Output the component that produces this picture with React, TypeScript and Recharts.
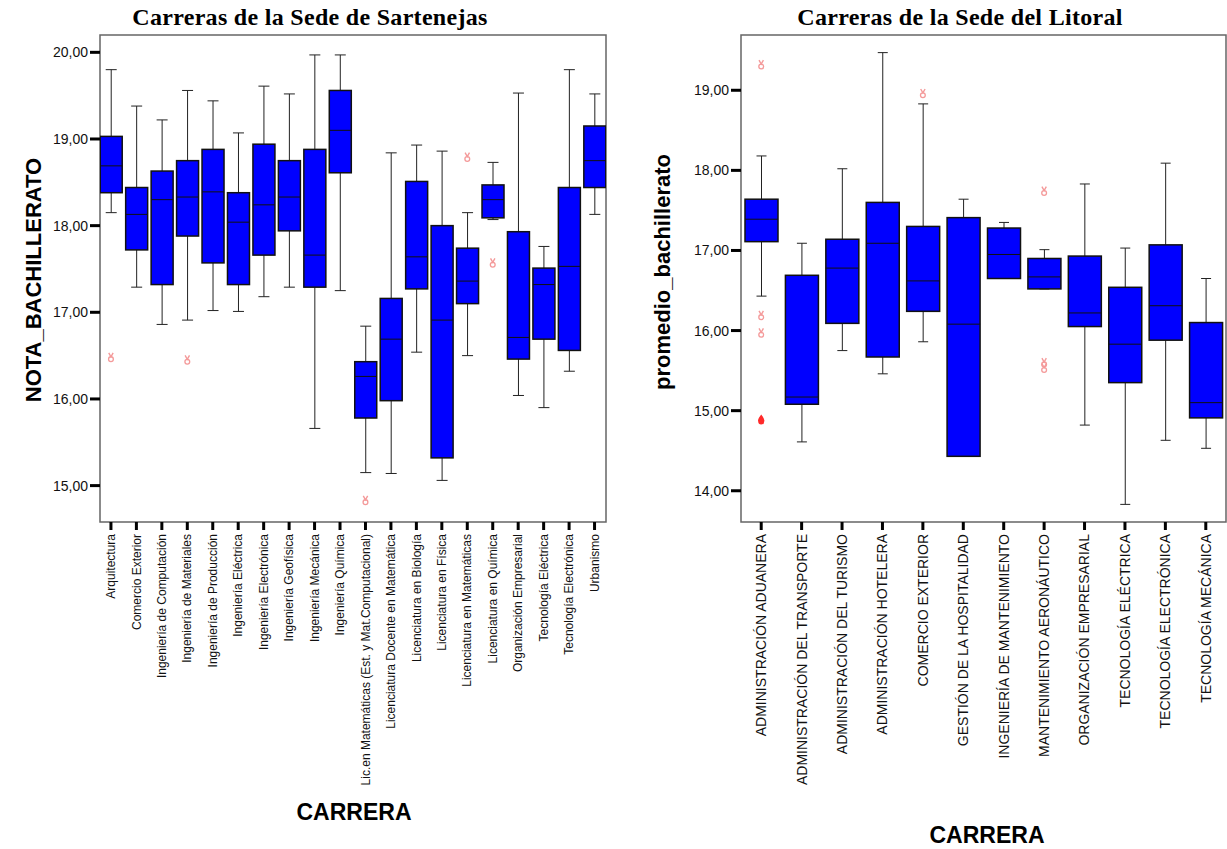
import { ComposedChart, XAxis, YAxis, Bar, Scatter, ReferenceArea } from 'recharts';

// Sede de Sartenejas
const sartCareers = [
  'Arquitectura',
  'Comercio Exterior',
  'Ingeniería de Computación',
  'Ingeniería de Materiales',
  'Ingeniería de Producción',
  'Ingeniería Eléctrica',
  'Ingeniería Electrónica',
  'Ingeniería Geofísica',
  'Ingeniería Mecánica',
  'Ingeniería Química',
  'Lic.en Matemáticas (Est. y Mat.Computacional)',
  'Licenciatura Docente en Matemática',
  'Licenciatura en Biología',
  'Licenciatura en Física',
  'Licenciatura en Matemáticas',
  'Licenciatura en Química',
  'Organización Empresarial',
  'Tecnología Eléctrica',
  'Tecnología Electrónica',
  'Urbanismo',
];
const sartHigh = [19.8, 19.38, 19.22, 19.56, 19.44, 19.07, 19.61, 19.52, 19.97, 19.97, 16.84, 18.84, 18.93, 18.86, 18.15, 18.73, 19.53, 17.76, 19.8, 19.52];
const sartQ3 = [19.03, 18.44, 18.63, 18.75, 18.88, 18.38, 18.94, 18.75, 18.88, 19.56, 16.43, 17.16, 18.51, 18.0, 17.74, 18.47, 17.93, 17.51, 18.44, 19.15];
const sartMedian = [18.69, 18.13, 18.3, 18.33, 18.39, 18.04, 18.24, 18.33, 17.66, 19.1, 16.26, 16.69, 17.64, 16.91, 17.36, 18.3, 16.71, 17.32, 17.53, 18.75];
const sartQ1 = [18.38, 17.72, 17.32, 17.88, 17.57, 17.32, 17.66, 17.94, 17.29, 18.61, 15.78, 15.98, 17.27, 15.32, 17.1, 18.09, 16.46, 16.69, 16.56, 18.44];
const sartLow = [18.15, 17.29, 16.86, 16.91, 17.02, 17.01, 17.18, 17.29, 15.66, 17.25, 15.15, 15.14, 16.54, 15.06, 16.5, 18.07, 16.04, 15.9, 16.32, 18.13];
const sartOutlierIdx = [0, 3, 10, 14, 15];
const sartOutlierVal = [16.48, 16.45, 14.83, 18.79, 17.57];
const sartYTicks = [15, 16, 17, 18, 19, 20];

// Sede del Litoral
const litCareers = [
  'ADMINISTRACIÓN ADUANERA',
  'ADMINISTRACIÓN DEL TRANSPORTE',
  'ADMINISTRACIÓN DEL TURISMO',
  'ADMINISTRACIÓN HOTELERA',
  'COMERCIO EXTERIOR',
  'GESTIÓN DE LA HOSPITALIDAD',
  'INGENIERÍA DE MANTENIMIENTO',
  'MANTENIMIENTO AERONÁUTICO',
  'ORGANIZACIÓN EMPRESARIAL',
  'TECNOLOGÍA ELÉCTRICA',
  'TECNOLOGÍA ELECTRÓNICA',
  'TECNOLOGÍA MECÁNICA',
];
const litHigh = [18.18, 17.09, 18.02, 19.47, 18.83, 17.64, 17.35, 17.01, 17.83, 17.03, 18.09, 16.65];
const litQ3 = [17.64, 16.69, 17.14, 17.6, 17.3, 17.41, 17.28, 16.9, 16.93, 16.54, 17.07, 16.1];
const litMedian = [17.39, 15.17, 16.78, 17.09, 16.62, 16.08, 16.95, 16.67, 16.22, 15.83, 16.31, 15.1];
const litQ1 = [17.11, 15.08, 16.09, 15.67, 16.24, 14.43, 16.65, 16.52, 16.05, 15.35, 15.88, 14.91];
const litLow = [16.43, 14.61, 15.75, 15.46, 15.86, 14.43, 16.65, 16.52, 14.82, 13.83, 14.63, 14.53];
const litOutlierIdx = [0, 0, 0, 4, 7, 7, 7];
const litOutlierVal = [19.32, 16.19, 15.97, 18.96, 17.74, 15.6, 15.53];
const litExtremeIdx = [0];
const litExtremeVal = [14.89];
const litYTicks = [14, 15, 16, 17, 18, 19];

const buildRows = (low: number[], q1: number[], med: number[], q3: number[], high: number[]) =>
  low.map((l, i) => ({ idx: i, low: l, q1: q1[i], median: med[i], q3: q3[i], high: high[i], range: [l, high[i]] }));

const buildPoints = (idx: number[], val: number[]) => idx.map((c, i) => ({ idx: c, val: val[i] }));

const fmt = (v: number) => v.toFixed(2).replace('.', ',');

function BoxShape(props: any) {
  const { x, y, width, height, payload, capWidth } = props;
  const top = Math.min(y, y + height);
  const bottom = Math.max(y, y + height);
  const span = payload.high - payload.low;
  const py = (v: number) => (span === 0 ? top : top + ((payload.high - v) / span) * (bottom - top));
  const cx = x + width / 2;
  const yQ3 = py(payload.q3);
  const yQ1 = py(payload.q1);
  const yMed = py(payload.median);
  return (
    <g>
      <line x1={cx} x2={cx} y1={top} y2={yQ3} stroke="#222" strokeWidth={1} />
      <line x1={cx} x2={cx} y1={yQ1} y2={bottom} stroke="#222" strokeWidth={1} />
      <line x1={cx - capWidth / 2} x2={cx + capWidth / 2} y1={top} y2={top} stroke="#222" strokeWidth={1} />
      <line x1={cx - capWidth / 2} x2={cx + capWidth / 2} y1={bottom} y2={bottom} stroke="#222" strokeWidth={1} />
      <rect x={x} y={yQ3} width={width} height={Math.max(yQ1 - yQ3, 0)} fill="#0000ff" stroke="#111" strokeWidth={1.5} />
      <line x1={x} x2={x + width} y1={yMed} y2={yMed} stroke="#111" strokeWidth={1} />
    </g>
  );
}

function OutlierMark(props: any) {
  const { cx, cy } = props;
  return (
    <g>
      <circle cx={cx} cy={cy + 1.8} r={2.4} fill="none" stroke="#f49a9a" strokeWidth={1.3} />
      <path d={`M${cx - 2.2},${cy - 4.5} L${cx},${cy - 0.6} L${cx + 2.2},${cy - 4.5}`} fill="none" stroke="#f49a9a" strokeWidth={1.4} />
    </g>
  );
}

function ExtremeMark(props: any) {
  const { cx, cy } = props;
  return <path d={`M${cx},${cy - 5} Q${cx + 4},${cy} ${cx + 3},${cy + 2} A3,3 0 1 1 ${cx - 3},${cy + 2} Q${cx - 4},${cy} ${cx},${cy - 5}Z`} fill="#ff2a2a" />;
}

function CareerTick(props: any) {
  const { x, y, payload, labels, fontSize } = props;
  return (
    <text
      x={x}
      y={y}
      transform={`rotate(-90, ${x}, ${y})`}
      textAnchor="end"
      dy="0.35em"
      fontSize={fontSize}
      fill="#111"
      fontFamily="'Liberation Sans', Arial, sans-serif"
    >
      {labels[payload.value]}
    </text>
  );
}

interface PanelProps {
  careers: string[];
  rows: any[];
  outliers: { idx: number; val: number }[];
  extremes?: { idx: number; val: number }[];
  yDomain: [number, number];
  xDomain: [number, number];
  yTicks: number[];
  width: number;
  margin: { top: number; right: number; bottom: number; left: number };
  barSize: number;
  capWidth: number;
  labelSize: number;
}

function BoxPanel(p: PanelProps) {
  return (
    <ComposedChart width={p.width} height={849} data={p.rows} margin={p.margin}>
      <XAxis
        type="number"
        dataKey="idx"
        domain={p.xDomain}
        ticks={p.careers.map((_, i) => i)}
        interval={0}
        allowDataOverflow
        height={290}
        axisLine={false}
        tickSize={8}
        tickMargin={4}
        tickLine={{ stroke: '#000', strokeWidth: 3 }}
        tick={<CareerTick labels={p.careers} fontSize={p.labelSize} />}
      />
      <YAxis
        type="number"
        domain={p.yDomain}
        ticks={p.yTicks}
        allowDataOverflow
        width={60}
        axisLine={false}
        tickSize={10}
        tickMargin={2}
        tickLine={{ stroke: '#000', strokeWidth: 3 }}
        tickFormatter={fmt}
        tick={{ fontSize: 14, fill: '#111', fontFamily: "'Liberation Sans', Arial, sans-serif" }}
      />
      <ReferenceArea
        x1={p.xDomain[0]}
        x2={p.xDomain[1]}
        y1={p.yDomain[0]}
        y2={p.yDomain[1]}
        fill="none"
        stroke="#666"
        strokeWidth={1.5}
        fillOpacity={0}
      />
      <Bar
        dataKey="range"
        barSize={p.barSize}
        isAnimationActive={false}
        shape={(s: any) => <BoxShape {...s} capWidth={p.capWidth} />}
      />
      <Scatter data={p.outliers} dataKey="val" isAnimationActive={false} shape={<OutlierMark />} />
      {p.extremes && <Scatter data={p.extremes} dataKey="val" isAnimationActive={false} shape={<ExtremeMark />} />}
    </ComposedChart>
  );
}

const abs = (style: any) => ({ position: 'absolute' as const, ...style });

export default function App() {
  const sartRows = buildRows(sartLow, sartQ1, sartMedian, sartQ3, sartHigh);
  const litRows = buildRows(litLow, litQ1, litMedian, litQ3, litHigh);
  const titleFont = "'Liberation Serif', 'Times New Roman', serif";
  const sans = "'Liberation Sans', Arial, sans-serif";
  const titleStyle = { fontFamily: titleFont, fontWeight: 'bold', fontSize: 24, letterSpacing: 0.3, lineHeight: '30px', height: 30 };
  return (
    <div style={abs({ left: 0, top: 0, width: 1227, height: 849, background: '#fff', fontFamily: sans, overflow: 'hidden' })}>
      <div style={abs({ left: 0, top: 0 })}>
        <BoxPanel
          careers={sartCareers}
          rows={sartRows}
          outliers={buildPoints(sartOutlierIdx, sartOutlierVal)}
          yDomain={[14.58, 20.2]}
          xDomain={[-0.43, 19.45]}
          yTicks={sartYTicks}
          width={620}
          margin={{ top: 35, right: 14, bottom: 37, left: 40 }}
          barSize={22}
          capWidth={11}
          labelSize={12}
        />
      </div>
      <div style={abs({ left: 620, top: 0 })}>
        <BoxPanel
          careers={litCareers}
          rows={litRows}
          outliers={buildPoints(litOutlierIdx, litOutlierVal)}
          extremes={buildPoints(litExtremeIdx, litExtremeVal)}
          yDomain={[13.61, 19.69]}
          xDomain={[-0.5, 11.5]}
          yTicks={litYTicks}
          width={607}
          margin={{ top: 35, right: 1, bottom: 37, left: 61 }}
          barSize={33}
          capWidth={10}
          labelSize={14}
        />
      </div>

      <div style={abs({ left: 10, top: 2, width: 600, textAlign: 'center', ...titleStyle })}>
        Carreras de la Sede de Sartenejas
      </div>
      <div style={abs({ left: 660, top: 2, width: 600, textAlign: 'center', ...titleStyle })}>
        Carreras de la Sede del Litoral
      </div>

      <div style={abs({ left: 34 - 200, top: 280 - 15, width: 400, height: 30, lineHeight: '30px', textAlign: 'center', transform: 'rotate(-90deg)', fontWeight: 'bold', fontSize: 22 })}>
        NOTA_BACHILLERATO
      </div>
      <div style={abs({ left: 663 - 200, top: 272 - 15, width: 400, height: 30, lineHeight: '30px', textAlign: 'center', transform: 'rotate(-90deg)', fontWeight: 'bold', fontSize: 22 })}>
        promedio_bachillerato
      </div>

      <div style={abs({ left: 354 - 100, top: 812 - 13, width: 200, height: 26, lineHeight: '26px', textAlign: 'center', fontWeight: 'bold', fontSize: 23 })}>
        CARRERA
      </div>
      <div style={abs({ left: 987 - 100, top: 822, width: 200, height: 26, lineHeight: '26px', textAlign: 'center', fontWeight: 'bold', fontSize: 23 })}>
        CARRERA
      </div>
    </div>
  );
}
